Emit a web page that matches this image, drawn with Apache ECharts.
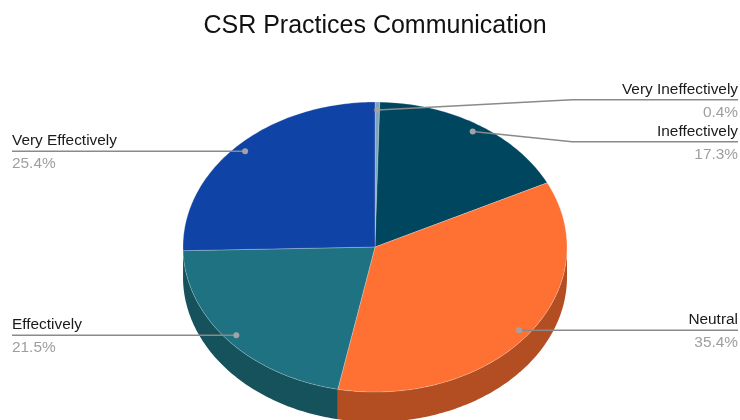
<!DOCTYPE html>
<html>
<head>
<meta charset="utf-8">
<script src="https://cdn.jsdelivr.net/npm/echarts@6/dist/echarts.min.js"></script>
<style>
  html, body { margin: 0; padding: 0; background: #fff; }
  #chart { width: 740px; height: 420px; }
</style>
</head>
<body>
<div id="chart"></div>
<script>
// Survey answers, clockwise from 12 o'clock
const categories = ['Very Ineffectively', 'Ineffectively', 'Neutral', 'Effectively', 'Very Effectively'];
const shares = [0.4, 17.3, 35.4, 21.5, 25.4];
const topColors = ['#7ea4bd', '#00465f', '#ff7033', '#1e7281', '#1043a6'];
const sideColors = ['#56748a', '#00303f', '#b34e22', '#15525b', '#0b2f78'];

// Tilted-pie geometry
const FONT = '"Liberation Sans", Arial, sans-serif';
const geo = { cx: 375, cy: 247, rx: 192, ry: 145, depth: 30, dotR: 0.945 };
const total = shares.reduce((a, b) => a + b, 0);
const bounds = [];
let acc = 0;
shares.forEach(v => {
  const s = acc / total * Math.PI * 2;
  acc += v;
  bounds.push([s, acc / total * Math.PI * 2]);
});

function pt(theta, dy) {
  return [geo.cx + geo.rx * Math.sin(theta), geo.cy - geo.ry * Math.cos(theta) + (dy || 0)];
}
function arc(a, b, dy) {
  const n = Math.max(2, Math.ceil(Math.abs(b - a) / (Math.PI / 180)));
  const out = [];
  for (let k = 0; k <= n; k++) out.push(pt(a + (b - a) * k / n, dy));
  return out;
}

// Label placement: anchor dot inside each slice, labels pushed apart per side
const labels = bounds.map(([s, e], i) => {
  const m = (s + e) / 2;
  const dot = [geo.cx + geo.rx * geo.dotR * Math.sin(m), geo.cy - geo.ry * geo.dotR * Math.cos(m)];
  return { i, dot, right: Math.sin(m) >= 0, y: dot[1] };
});
function spread(list, gap) {
  list.sort((a, b) => a.y - b.y);
  let groups = list.map(l => ({ items: [l], y0: l.y }));
  let changed = true;
  while (changed) {
    changed = false;
    for (let g = 0; g < groups.length; g++) {
      const c = groups[g];
      const mean = c.items.reduce((s, l) => s + l.dot[1], 0) / c.items.length;
      c.y0 = mean - gap * (c.items.length - 1) / 2;
    }
    for (let g = 0; g < groups.length - 1; g++) {
      const a = groups[g], b = groups[g + 1];
      if (a.y0 + gap * a.items.length > b.y0) {
        a.items = a.items.concat(b.items);
        groups.splice(g + 1, 1);
        changed = true;
        break;
      }
    }
  }
  groups.forEach(g => g.items.forEach((l, k) => { l.y = g.y0 + gap * k; }));
}
spread(labels.filter(l => l.right), 42);
spread(labels.filter(l => !l.right), 42);

function renderSlice(params, api) {
  const i = params.dataIndex;
  const [s, e] = bounds[i];
  const children = [];
  const a = Math.max(s, Math.PI / 2), b = Math.min(e, Math.PI * 1.5);
  if (b > a) {
    const pts = arc(a, b, 0).concat(arc(b, a, geo.depth));
    children.push({ type: 'polygon', shape: { points: pts }, style: { fill: sideColors[i] } });
  }
  const top = [[geo.cx, geo.cy]].concat(arc(s, e, 0));
  children.push({
    type: 'polygon', shape: { points: top },
    style: { fill: topColors[i], stroke: 'rgba(255,255,255,0.3)', lineWidth: 0.8 }
  });
  return { type: 'group', children };
}

function renderLabel(params, api) {
  const l = labels[params.dataIndex];
  const i = l.i;
  const endX = l.right ? 738 : 12;
  const elbowX = l.right ? 572 : 178;
  const pts = Math.abs(l.y - l.dot[1]) < 0.5
    ? [l.dot, [endX, l.y]]
    : [l.dot, [elbowX, l.y], [endX, l.y]];
  const align = l.right ? 'right' : 'left';
  return {
    type: 'group',
    children: [
      { type: 'polyline', shape: { points: pts, smooth: 0 }, style: { stroke: '#8a8a8a', lineWidth: 1.5, fill: null } },
      { type: 'circle', shape: { cx: l.dot[0], cy: l.dot[1], r: 3 }, style: { fill: '#a3a3a3' } },
      { type: 'text', x: endX, y: l.y - 3,
        style: { text: categories[i], fill: '#1a1a1a', font: '15.4px ' + FONT, textAlign: align, textVerticalAlign: 'bottom' } },
      { type: 'text', x: endX, y: l.y + 5,
        style: { text: shares[i].toFixed(1) + '%', fill: '#9e9e9e', font: '15.4px ' + FONT, textAlign: align, textVerticalAlign: 'top' } }
    ]
  };
}

const data = shares.map((v, i) => [v, i]);
const chart = echarts.init(document.getElementById('chart'), null, { renderer: 'canvas' });
chart.setOption({
  animation: false,
  backgroundColor: '#ffffff',
  title: {
    text: 'CSR Practices Communication',
    left: 370,
    textAlign: 'center',
    top: 9,
    textStyle: { fontFamily: FONT, fontSize: 25, fontWeight: 'normal', color: '#111' }
  },
  series: [
    { type: 'custom', coordinateSystem: 'none', renderItem: renderSlice, data: data, z: 2, silent: true },
    { type: 'custom', coordinateSystem: 'none', renderItem: renderLabel, data: data, z: 3, silent: true }
  ]
});
</script>
</body>
</html>
